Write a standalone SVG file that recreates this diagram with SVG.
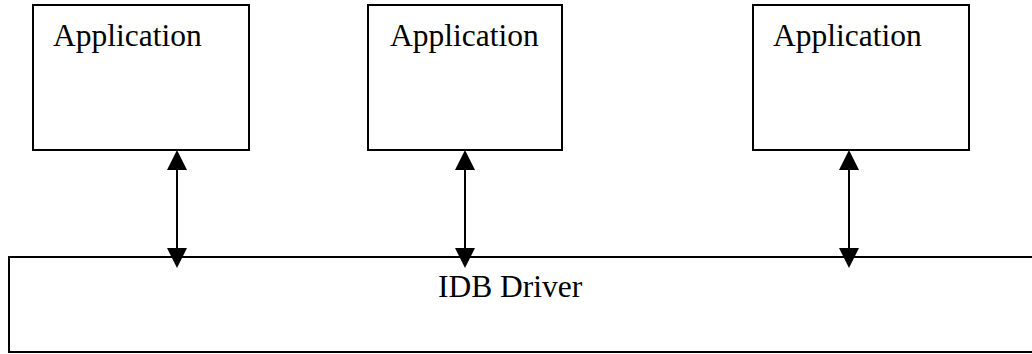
<svg xmlns="http://www.w3.org/2000/svg" width="1032" height="354" viewBox="0 0 1032 354">
<style>
.box{fill:#fff;stroke:#000;stroke-width:2}
.lbl{font-family:"Liberation Serif","Times New Roman",serif;font-size:31.5px;fill:#000}
.conn{stroke:#000;stroke-width:2;fill:none}
.head{fill:#000}
</style>
<rect width="1032" height="354" fill="#fff"/>
<g id="idb-driver">
<rect class="box" x="9" y="257" width="1040" height="95"/>
<text class="lbl" x="438" y="297">IDB Driver</text>
</g>
<g id="app1">
<rect class="box" x="33" y="5" width="216" height="145"/>
<text class="lbl" x="53" y="46">Application</text>
</g>
<g id="app2">
<rect class="box" x="368" y="5" width="194" height="145"/>
<text class="lbl" x="390" y="46">Application</text>
</g>
<g id="app3">
<rect class="box" x="753" y="5" width="216" height="145"/>
<text class="lbl" x="773" y="46">Application</text>
</g>
<g id="connectors">
<line class="conn" x1="177" y1="168" x2="177" y2="250"/>
<polygon class="head" points="177,150 167,170 187,170"/>
<polygon class="head" points="177,268 167,248 187,248"/>
<line class="conn" x1="465" y1="168" x2="465" y2="250"/>
<polygon class="head" points="465,150 455,170 475,170"/>
<polygon class="head" points="465,268 455,248 475,248"/>
<line class="conn" x1="849" y1="168" x2="849" y2="250"/>
<polygon class="head" points="849,150 839,170 859,170"/>
<polygon class="head" points="849,268 839,248 859,248"/>
</g>
</svg>
